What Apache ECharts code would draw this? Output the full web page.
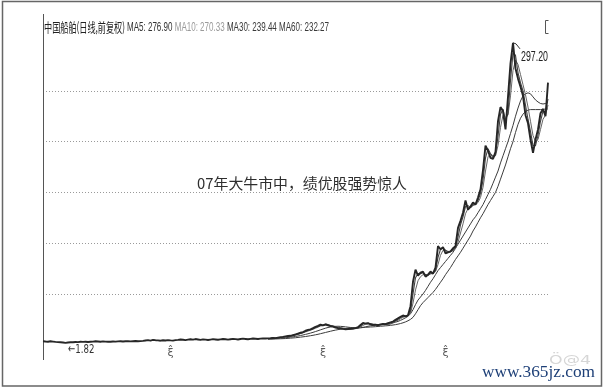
<!DOCTYPE html>
<html><head><meta charset="utf-8">
<script src="https://cdn.jsdelivr.net/npm/echarts@6/dist/echarts.min.js"></script>
<style>html,body{margin:0;padding:0;background:#fff}#c{width:604px;height:388px}</style>
</head><body><div id="c"></div>
<script>
// ---------------- data ----------------
const titleText = '中国船舶(日线,前复权)';
const maLabels = ['MA5: 276.90', 'MA10: 270.33', 'MA30: 239.44', 'MA60: 232.27'];
const maLabelColors = ['#333', '#9a9a9a', '#3a3a3a', '#3a3a3a'];
const noteText = '07年大牛市中，绩优股强势惊人';
const watermark = 'www.365jz.com';
const yMin = 0, yMax = 300, yStep = 50;
const xMarkerIdx = [51, 112, 161];
const xMarkerLabel = 'ξ\u0302';
const maStart = 90;

const priceEarly = [
  3.5, 3.2, 3.0, 3.4, 3.1, 2.8, 2.6, 2.4, 2.2,
  1.82, 2.2, 2.5, 2.4, 2.7, 2.6, 2.9, 2.8, 3.0, 2.7, 2.9, 3.1,
  3.4, 3.2, 3.0, 3.3, 3.1, 2.9, 3.0, 3.2, 3.1, 3.3, 3.5, 3.2, 3.4, 3.6, 3.3, 3.5, 3.7, 3.4, 3.6, 3.8,
  4.2, 4.6, 4.1, 4.8, 4.5, 4.3, 4.0, 4.4, 4.2, 4.6, 4.3, 4.1, 4.5, 4.8, 5.2, 4.9, 4.6, 5.0, 5.4, 5.1,
  5.6, 5.2, 4.8, 5.3, 5.0, 4.7, 5.1, 5.5, 5.2, 4.9, 5.3, 5.7, 5.4, 5.0, 5.4, 5.8, 5.5, 5.2, 5.6, 6.0,
  5.7, 5.4, 5.8, 6.2, 5.9, 5.6, 6.0, 6.3, 6.1
];
const priceLate = [
  6.3, 6.4, 6.6, 6.5, 7.0, 7.5, 7.8, 8.3, 8.6, 8.8,
  9.5, 10.2, 11.0, 11.8, 12.5, 13.8, 14.6, 15.2, 16.3, 17.6,
  18.5, 19.8, 19.0, 20.2, 19.2, 18.4, 17.8, 17.0, 16.4, 16.0,
  15.6, 15.3, 15.5, 15.8, 16.0, 16.4, 17.2, 19.5, 21.5, 20.8,
  21.2, 20.0, 19.6, 19.8, 19.3, 20.0, 20.6, 20.2, 21.2, 22.0,
  22.8, 24.5, 26.0, 27.4, 28.8, 28.0, 29.0, 38, 62, 74,
  68, 71, 72, 67, 69, 72, 70, 76, 97, 94,
  96, 90, 91, 92, 95, 97, 115, 122, 130, 142,
  133, 136, 140, 138, 145, 153, 172, 196, 191, 184,
  183, 190, 220, 234, 230, 212, 244, 277, 297.2, 272,
  262, 254, 245, 226, 218, 202, 189, 202, 212, 228,
  232, 225, 258
];
const ma5Late = [
  6.2, 6.3, 6.5, 6.5, 6.8, 7.2, 7.6, 8.0, 8.4, 8.7,
  9.2, 9.9, 10.6, 11.4, 12.2, 13.2, 14.2, 14.9, 15.8, 17.0,
  18.0, 19.2, 19.3, 19.7, 19.6, 18.8, 18.1, 17.4, 16.7, 16.2,
  15.8, 15.5, 15.4, 15.6, 15.9, 16.2, 16.8, 18.4, 20.5, 21.0,
  21.0, 20.6, 19.8, 19.7, 19.5, 19.7, 20.3, 20.4, 20.7, 21.6,
  22.4, 23.6, 25.2, 26.7, 28.1, 28.4, 28.6, 33, 50, 66,
  70, 70, 71, 69, 68.5, 70.5, 71, 73, 86, 94,
  95, 93, 91, 91.5, 93.5, 96, 106, 118, 126, 136,
  137, 135, 138, 139, 142, 149, 162, 184, 193, 188,
  184, 187, 205, 227, 232, 221, 228, 260, 287, 285,
  268, 258, 250, 236, 222, 210, 196, 196, 206, 220,
  230, 229, 242
];
const ma10Late = [
  6.1, 6.2, 6.3, 6.4, 6.6, 6.9, 7.3, 7.7, 8.1, 8.4,
  8.9, 9.5, 10.2, 10.9, 11.7, 12.6, 13.5, 14.3, 15.2, 16.3,
  17.3, 18.4, 18.9, 19.3, 19.5, 19.1, 18.6, 18.0, 17.4, 16.9,
  16.4, 16.0, 15.7, 15.6, 15.7, 15.9, 16.3, 17.3, 19.0, 20.2,
  20.8, 20.8, 20.3, 20.0, 19.7, 19.6, 19.9, 20.2, 20.5, 21.1,
  21.8, 22.8, 24.1, 25.6, 27.0, 27.8, 28.3, 31, 41, 54,
  63, 67, 69, 69, 68.5, 69.5, 70.5, 72, 79, 88,
  93, 93, 92, 91.5, 92.5, 94.5, 101, 110, 119, 129,
  134, 135, 137, 138, 140, 145, 155, 171, 185, 188,
  186, 186, 196, 214, 226, 224, 226, 245, 270, 280,
  276, 266, 256, 246, 234, 220, 206, 200, 202, 212,
  222, 226, 236
];
const ma30Late = [
  5.8, 5.9, 6.0, 6.1, 6.2, 6.4, 6.6, 6.9, 7.2, 7.5,
  7.8, 8.2, 8.6, 9.1, 9.6, 10.2, 10.8, 11.5, 12.2, 13.0,
  13.8, 14.7, 15.5, 16.3, 17.0, 17.5, 17.9, 18.1, 18.2, 18.1,
  17.9, 17.6, 17.3, 17.0, 16.7, 16.5, 16.4, 16.6, 17.0, 17.6,
  18.2, 18.7, 19.0, 19.3, 19.5, 19.7, 19.8, 19.9, 20.1, 20.4,
  21.5, 22.2, 23.0, 24.0, 25.2, 26.5, 28.0, 30.5, 34.5, 39.5,
  44, 47, 50, 53.5, 57.5, 61.5, 65, 69, 73, 76,
  79, 82, 85, 88, 91, 95, 99, 103, 107, 111,
  115, 119, 123, 126, 130, 134, 138, 143, 148, 153,
  159, 165, 171, 179, 186, 193, 200, 208, 216, 225,
  233, 240, 245, 247, 248, 247, 244, 241, 239, 237.5,
  237, 237.5, 239
];
const ma60Late = [
  5.5, 5.6, 5.6, 5.7, 5.8, 5.9, 6.0, 6.1, 6.3, 6.5,
  6.7, 6.9, 7.2, 7.5, 7.8, 8.1, 8.5, 8.9, 9.3, 9.8,
  10.3, 10.9, 11.5, 12.1, 12.7, 13.3, 13.9, 14.4, 14.9, 15.3,
  15.7, 16.0, 16.3, 16.5, 16.7, 16.8, 16.9, 17.0, 17.1, 17.2,
  17.3, 17.5, 17.6, 17.8, 18.0, 18.2, 18.4, 18.6, 18.8, 19.1,
  19.4, 19.8, 20.3, 20.9, 21.6, 22.5, 23.6, 25.0, 27.0, 30.5,
  34.5, 38.5, 41.5, 44, 46.5, 49, 51.5, 54.5, 58, 61.5,
  65, 69, 72.5, 76, 80, 84, 87.5, 91, 95, 99,
  103, 107, 112, 116, 120.5, 125, 129, 133.5, 138, 142,
  146, 150, 156, 163, 170, 177, 185, 193, 200, 209,
  217, 223, 227, 229.5, 231, 231.5, 231.5, 231.5, 231.5, 231.5,
  231.8, 232, 232.2
];

// ---------------- build ----------------
const price = priceEarly.concat(priceLate);
const pad = new Array(maStart).fill('-');
const ma5 = pad.concat(ma5Late), ma10 = pad.concat(ma10Late);
const ma30 = pad.concat(ma30Late), ma60 = pad.concat(ma60Late);
const cats = price.map((_, i) => String(i));
const nTicks = (yMax - yMin) / yStep + 1;
const splitColors = [];
for (let k = 0; k < nTicks; k++) splitColors.push(k === 0 || k === nTicks - 1 ? 'rgba(0,0,0,0)' : '#9a9a9a');

const chart = echarts.init(document.getElementById('c'), null, { renderer: 'canvas' });
const lineS = (name, data, color, w, z) => ({
  name, type: 'line', data, symbol: 'none', smooth: false, z,
  lineStyle: { color, width: w }, emphasis: { disabled: true }, silent: true, animation: false
});
chart.setOption({
  animation: false,
  backgroundColor: '#fff',
  grid: { left: 43, right: 56, top: 40, bottom: 43.25 },
  xAxis: {
    type: 'category', data: cats, boundaryGap: false,
    axisLine: { show: false }, axisTick: { show: false }, splitLine: { show: false },
    axisLabel: {
      interval: 0, margin: 3, fontSize: 11, color: '#5a5a5a', fontFamily: 'DejaVu Sans',
      formatter: (v, i) => (xMarkerIdx.indexOf(i) >= 0 ? xMarkerLabel : '')
    }
  },
  yAxis: {
    type: 'value', min: yMin, max: yMax, interval: yStep,
    axisLine: { show: false }, axisTick: { show: false }, axisLabel: { show: false },
    splitLine: { show: true, lineStyle: { type: [1, 2], color: splitColors, width: 1 } }
  },
  series: [
    lineS('MA60', ma60, '#3c3c3c', 1, 2),
    lineS('MA30', ma30, '#3c3c3c', 1, 3),
    lineS('MA10', ma10, '#666', 1, 4),
    lineS('MA5', ma5, '#444', 1.1, 5),
    lineS('price', price, '#262626', 1.9, 6)
  ]
});

// ---------------- annotations ----------------
const mctx = document.createElement('canvas').getContext('2d');
function tw(text, font) { mctx.font = font; return mctx.measureText(text).width; }
function fitText(text, font, x0, x1, y, fill, z) {
  const s = (x1 - x0) / tw(text, font);
  return { type: 'text', x: x0, y, scaleX: s, z: z || 10, silent: true,
    style: { text, font, fill, align: 'left', verticalAlign: 'middle' } };
}
const g = [];
g.push({ type: 'rect', shape: { x: 2.5, y: 1.5, width: 599, height: 384.5 },
  style: { fill: 'none', stroke: '#666', lineWidth: 1.5 }, silent: true, z: 1 });
const p0 = chart.convertToPixel({ xAxisIndex: 0, yAxisIndex: 0 }, [0, 0]);
g.push({ type: 'line', shape: { x1: Math.round(p0[0]) + 0.5, y1: 14, x2: Math.round(p0[0]) + 0.5, y2: 360 },
  style: { stroke: '#555', lineWidth: 1 }, silent: true, z: 1 });
// header
const cjkFont = '13px "Noto Sans CJK SC"';
g.push(fitText(titleText, cjkFont, 44, 125, 27, '#222'));
const latFont = '13px "Liberation Sans"';
const full = maLabels.join(' ');
const sLat = (329 - 127) / tw(full, latFont);
let prefix = '';
maLabels.forEach((t, k) => {
  const x = 127 + sLat * tw(prefix, latFont);
  g.push({ type: 'text', x, y: 27, scaleX: sLat, z: 10, silent: true,
    style: { text: t, font: latFont, fill: maLabelColors[k], align: 'left', verticalAlign: 'middle' } });
  prefix += t + ' ';
});
// small bracket icon
g.push({ type: 'polyline', shape: { points: [[548.5, 20.5], [545.5, 20.5], [545.5, 33.5], [548.5, 33.5]] },
  style: { stroke: '#555', fill: 'none', lineWidth: 1 }, silent: true, z: 10 });
// peak label
let pkI = 0; price.forEach((v, i) => { if (v > price[pkI]) pkI = i; });
let loI = 0; price.forEach((v, i) => { if (v < price[loI]) loI = i; });
const pk = chart.convertToPixel({ xAxisIndex: 0, yAxisIndex: 0 }, [pkI, price[pkI]]);
g.push({ type: 'polyline', shape: { points: [[pk[0], pk[1]], [pk[0] + 3, pk[1] + 1], [pk[0] + 7, pk[1] + 6]] },
  style: { stroke: '#333', fill: 'none', lineWidth: 1 }, silent: true, z: 10 });
const pkText = price[pkI].toFixed(2);
g.push(fitText(pkText, '14px "Liberation Sans"', pk[0] + 8, pk[0] + 35, pk[1] + 14, '#222'));
const lo = chart.convertToPixel({ xAxisIndex: 0, yAxisIndex: 0 }, [loI, price[loI]]);
g.push(fitText('←' + price[loI].toFixed(2), '13px "DejaVu Sans"', lo[0] + 2.5, lo[0] + 29, lo[1] + 7, '#333'));
// note
g.push(fitText(noteText, '15px "Noto Sans CJK SC"', 197, 407, 183, '#2e2e2e'));
// watermark
g.push(fitText('Ö@4', '12px "DejaVu Sans"', 549, 591, 361, '#d6d6d6'));
g.push(fitText(watermark, '17px "Liberation Serif"', 482, 595, 373, '#1d3f77'));
chart.setOption({ graphic: g });
</script></body></html>
